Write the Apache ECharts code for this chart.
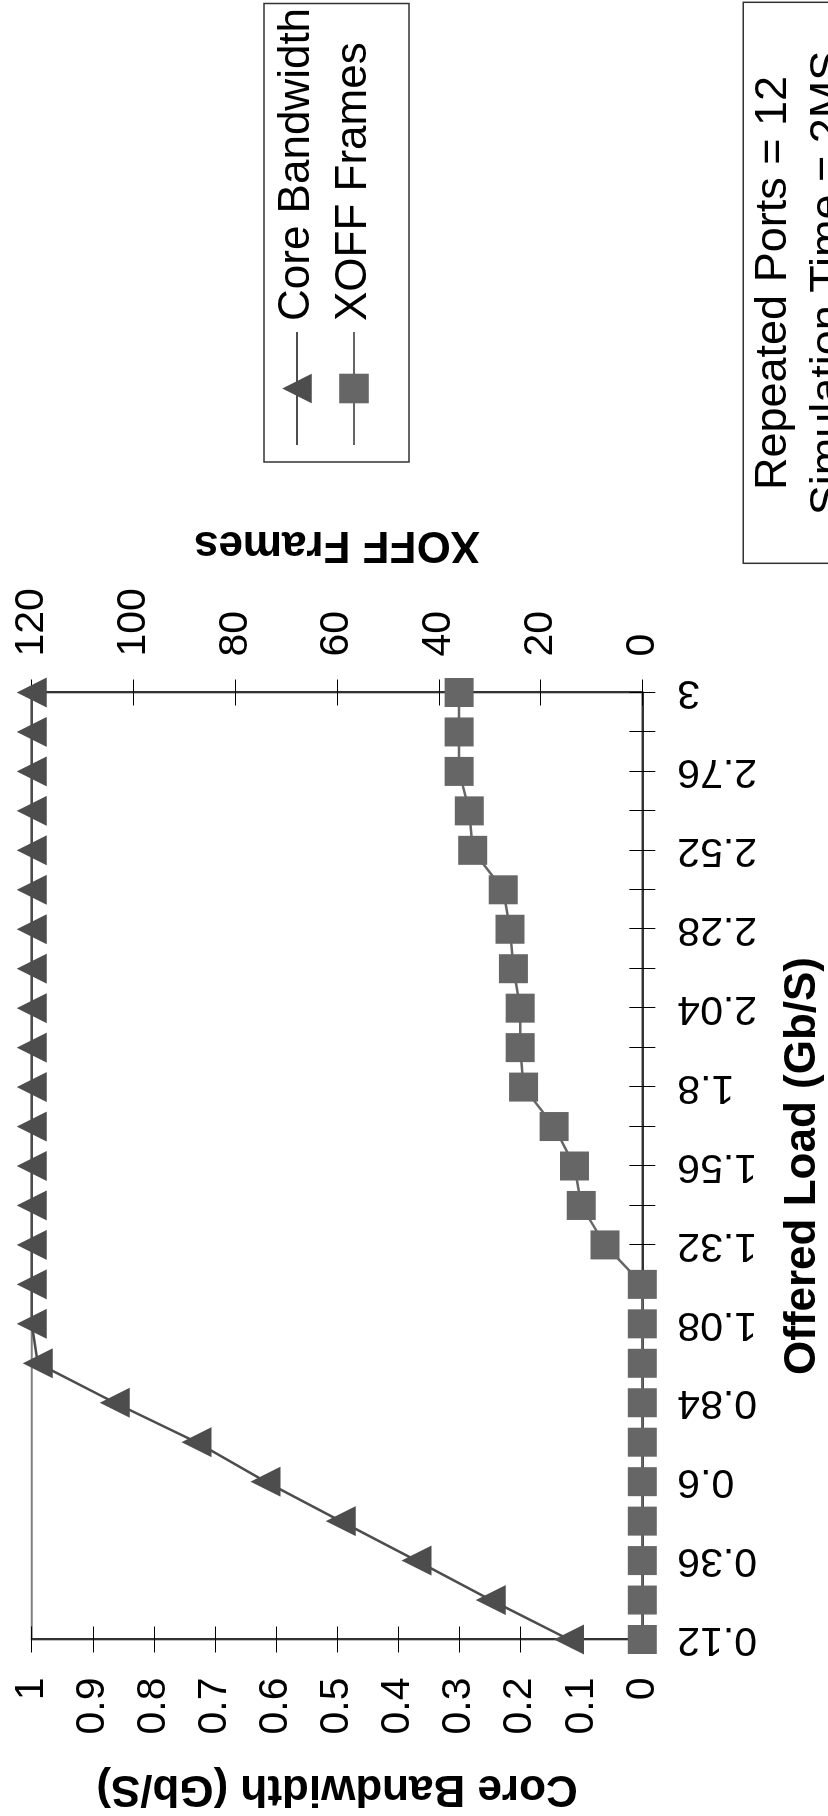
<!DOCTYPE html>
<html>
<head>
<meta charset="utf-8">
<title>Core Bandwidth / XOFF Frames</title>
<script src="https://cdn.jsdelivr.net/npm/echarts@6/dist/echarts.min.js"></script>
<style>
  html, body { margin: 0; padding: 0; background: #fff; overflow: hidden; }
  #page { position: relative; width: 828px; height: 1816px; overflow: hidden; }
  /* the chart is laid out landscape and turned a quarter turn, like the scan */
  #myChart {
    position: absolute; left: 0; top: 0;
    width: 1816px; height: 828px;
    transform-origin: 0 0;
    transform: translate(0, 1816px) rotate(-90deg);
  }
</style>
</head>
<body>
<div id="page"><div id="myChart"></div></div>
<script>
// offered load (Gb/S) - categories
var offeredLoad = ['0.12', '0.24', '0.36', '0.48', '0.6', '0.72', '0.84', '0.96', '1.08', '1.2',
  '1.32', '1.44', '1.56', '1.68', '1.8', '1.92', '2.04', '2.16', '2.28', '2.4',
  '2.52', '2.64', '2.76', '2.88', '3'];
// core bandwidth (Gb/S)
var coreBandwidth = [0.12, 0.248, 0.37, 0.494, 0.617, 0.73, 0.864, 0.99, 1, 1,
  1, 1, 1, 1, 1, 1, 1, 1, 1, 1,
  1, 1, 1, 1, 1];
// XOFF frames
var xoffFrames = [0, 0, 0, 0, 0, 0, 0, 0, 0, 0,
  7.33, 12, 13.33, 17.33, 23.33, 24, 24, 25.33, 26, 27.33,
  33.33, 34, 36, 36, 36];
// axis ticks
var bandwidthTicks = [0, 0.1, 0.2, 0.3, 0.4, 0.5, 0.6, 0.7, 0.8, 0.9, 1];
var xoffTicks = [0, 20, 40, 60, 80, 100, 120];
var notes = ['Repeated Ports = 12', 'Simulation Time = 2MS'];

var FONT = "'Liberation Sans', Arial, Helvetica, sans-serif";

function valueAxis(ticks, position, withLabels, name) {
  var ax = {
    type: 'value',
    position: position,
    min: ticks[0],
    max: ticks[ticks.length - 1],
    interval: ticks[1] - ticks[0],
    splitLine: { show: false },
    axisLine: { show: withLabels, lineStyle: { color: '#333', width: 2 } },
    axisTick: { show: true, inside: !withLabels, length: 13, lineStyle: { color: '#000', width: 1 } },
    axisLabel: { show: withLabels, fontSize: 41, color: '#000', fontFamily: FONT,
      margin: position === 'left' ? 38 : 36 }
  };
  if (withLabels) {
    ax.name = name;
    ax.nameLocation = 'middle';
    ax.nameRotate = 90;
    ax.nameGap = position === 'left' ? 127 : 126;
    ax.nameTextStyle = { fontSize: 44, fontWeight: 'bold', color: '#000', fontFamily: FONT };
  }
  return ax;
}

let myChart = echarts.init(document.getElementById('myChart'), null, { width: 1816, height: 828 });

let option = {
  animation: false,
  backgroundColor: '#fff',
  grid: {
    left: 176.5, right: 692.5, top: 31.7, bottom: 185.7,
    show: true, borderColor: '#808080', borderWidth: 2,
    containLabel: false, outerBoundsMode: 'none'
  },
  legend: {
    orient: 'vertical',
    left: 1370, top: 275,
    padding: 0, itemGap: 13,
    itemWidth: 113, itemHeight: 37,
    textStyle: { fontSize: 44, color: '#000', fontFamily: FONT, padding: [0, 0, 16, 6] },
    data: ['Core Bandwidth', 'XOFF Frames']
  },
  xAxis: [
    {
      type: 'category', position: 'bottom', data: offeredLoad, boundaryGap: false,
      name: 'Offered Load (Gb/S)', nameLocation: 'middle', nameGap: 139,
      nameTextStyle: { fontSize: 44, fontWeight: 'bold', color: '#000', fontFamily: FONT },
      axisLine: { lineStyle: { color: '#333', width: 2 } },
      axisTick: { interval: 0, length: 13, lineStyle: { color: '#000', width: 1 } },
      axisLabel: { interval: 1, rotate: 90, margin: 35, fontSize: 41, color: '#000', fontFamily: FONT },
      splitLine: { show: false }
    },
    {
      // second copy only to make the ticks cross the axis
      type: 'category', position: 'bottom', data: offeredLoad, boundaryGap: false,
      axisLine: { show: false },
      axisTick: { interval: 0, inside: true, length: 13, lineStyle: { color: '#000', width: 1 } },
      axisLabel: { show: false },
      splitLine: { show: false }
    }
  ],
  yAxis: [
    valueAxis(bandwidthTicks, 'left', true, 'Core Bandwidth (Gb/S)'),
    valueAxis(xoffTicks, 'right', true, 'XOFF Frames'),
    valueAxis(bandwidthTicks, 'left', false),
    valueAxis(xoffTicks, 'right', false)
  ],
  series: [
    {
      name: 'Core Bandwidth', type: 'line', xAxisIndex: 0, yAxisIndex: 0,
      data: coreBandwidth, clip: false,
      symbol: 'triangle', symbolSize: 30, showAllSymbol: true,
      itemStyle: { color: '#4d4d4d' },
      lineStyle: { color: '#4d4d4d', width: 2.5 }
    },
    {
      name: 'XOFF Frames', type: 'line', xAxisIndex: 0, yAxisIndex: 1,
      data: xoffFrames, clip: false,
      symbol: 'rect', symbolSize: 29, showAllSymbol: true,
      itemStyle: { color: '#666666' },
      lineStyle: { color: '#666666', width: 2.5 }
    }
  ],
  graphic: [
    {
      type: 'rect', z: -1,
      shape: { x: 1354, y: 264, width: 458.5, height: 145 },
      style: { fill: 'none', stroke: '#333', lineWidth: 1.5 }
    },
    {
      type: 'rect',
      shape: { x: 1252.7, y: 743.3, width: 561, height: 200 },
      style: { fill: '#fff', stroke: '#333', lineWidth: 1.5 }
    },
    {
      type: 'text', x: 1533, y: 746,
      style: { text: notes.join('\n'), font: '45px ' + FONT, fill: '#000',
        align: 'center', verticalAlign: 'top', lineHeight: 55 }
    }
  ]
};
myChart.setOption(option);
</script>
</body>
</html>
